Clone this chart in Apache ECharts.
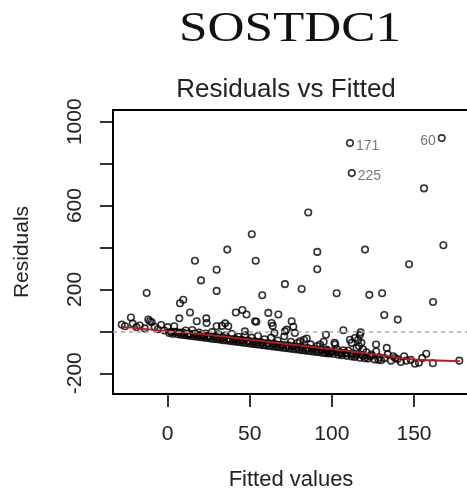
<!DOCTYPE html>
<html>
<head>
<meta charset="utf-8">
<script src="https://cdn.jsdelivr.net/npm/echarts@6/dist/echarts.min.js"></script>
<style>
  html, body { margin: 0; padding: 0; background: #fff; }
  #chart { width: 467px; height: 497px; }
</style>
</head>
<body>
<div id="chart"></div>
<script>
// Residuals vs fitted values for the SOSTDC1 model
const chartTitle = 'SOSTDC1';
const panelTitle = 'Residuals vs Fitted';
const xName = 'Fitted values';
const yName = 'Residuals';

const fittedTicks = [0, 50, 100, 150];
const residualTicks = [-200, 0, 200, 400, 600, 800, 1000];
const residualTickLabels = [-200, 200, 600, 1000];

// observations flagged by index
const flaggedPoints = [
  { id: '171', fitted: 111.0, residual: 898, side: 'right' },
  { id: '225', fitted: 112.1, residual: 755, side: 'right' },
  { id: '60', fitted: 166.9, residual: 922, side: 'left' }
];

// large positive residuals
const upperPoints = [
  [156.1, 682], [85.6, 567], [51.2, 463], [91.1, 379], [120.2, 390], [167.9, 411],
  [36.3, 390], [16.6, 337], [53.6, 337], [91.1, 296], [29.8, 294], [147.0, 320],
  [20.3, 243], [71.4, 225], [81.6, 202], [29.8, 193], [-12.8, 183], [102.9, 182],
  [122.8, 174], [130.6, 182], [57.6, 172], [9.5, 151], [7.5, 134], [161.6, 140],
  [131.9, 78], [140.1, 56], [13.6, 90], [41.5, 90], [45.5, 102], [48.0, 80],
  [61.3, 88], [67.4, 80], [-22.4, 66], [7.1, 62], [23.5, 62]
];

// points in the middle of the band
const middlePoints = [
  [-28, 32], [-26, 24], [-21.3, 37], [-19, 20], [-17, 28], [-14, 14], [-11.8, 56],
  [-9.7, 43], [-8, 22], [-6, 10], [-4, 30], [-2, 4], [0, 20], [2, -2], [4, 24],
  [-10.8, 48], [17.7, 48], [23.7, 40], [29.8, 24], [36.9, 24], [33, 26], [35, 38],
  [47, 0], [53.2, 48], [54, 46], [63.3, 40], [64, 26], [65, -8], [71.4, 0], [72.5, 8],
  [75.5, 48], [76.5, 22], [77.5, -8], [84.7, -34], [80.6, -48], [96.4, -16], [107, 5],
  [117.5, -5], [116, -40], [112, -55], [114, -32], [117, -18], [118, -55], [111, -40],
  [101.6, -55], [102, -63], [92.8, -63], [116.5, -71], [126.9, -63], [133.4, -79],
  [119, -87], [107, -90], [124.2, -111], [128.3, -135], [137.4, -119], [138.4, -127],
  [144, -119], [145.3, -140], [150.6, -155], [157.5, -107], [161.5, -152], [177.6, -140],
  [96.8, -87], [98.8, -103]
];

// second row just above the lower edge
const nearEdgePoints = [
  [4, -2], [7, -6], [10, -8], [13, -14], [16, -12], [19, -18], [22, -20], [25, -24],
  [28, -26], [31, -30], [34, -30], [37, -36], [40, -38], [43, -42], [46, -44], [49, -46],
  [52, -50], [55, -52], [58, -56], [61, -58], [64, -62], [67, -64], [70, -66], [73, -70],
  [76, -72], [79, -76], [82, -80], [85, -82], [88, -84], [91, -88], [94, -90], [97, -94],
  [100, -98], [103, -100], [106, -104], [109, -106], [112, -110], [115, -112], [119, -118],
  [123, -120]
];

// dense lower edge of the band
const lowerPoints = [
  [1, -8], [3, -12], [5, -4], [6, -14], [8, -16], [9, -6], [10, -18], [11, 4], [12, -20],
  [13, -10], [14, -22], [15, 6], [16, -24], [17, -14], [18, -26], [19, -6], [20, -28],
  [21, -18], [22, -30], [23, -10], [24, -32], [25, -20], [26, -34], [27, -4], [28, -36],
  [29, -24], [30, -38], [31, -14], [32, -40], [33, -30], [34, -42], [35, -20], [36, -44],
  [37, -34], [38, -46], [39, -12], [40, -48], [41, -36], [42, -50], [43, -26], [44, -52],
  [45, -40], [46, -54], [47, -18], [48, -56], [49, -44], [50, -58], [51, -30], [52, -60],
  [53, -48], [54, -62], [55, -22], [56, -64], [57, -52], [58, -66], [59, -38], [60, -68],
  [61, -56], [62, -70], [63, -30], [64, -72], [65, -60], [66, -74], [67, -44], [68, -76],
  [69, -64], [70, -78], [71, -24], [72, -80], [73, -66], [74, -82], [75, -50], [76, -84],
  [77, -70], [78, -86], [79, -56], [80, -88], [81, -74], [82, -90], [83, -40], [84, -92],
  [85, -78], [86, -94], [87, -62], [88, -96], [89, -82], [90, -98], [91, -70], [92, -100],
  [93, -86], [94, -102], [95, -50], [96, -104], [97, -92], [98, -106], [100, -96],
  [101, -108], [103, -84], [104, -112], [105, -100], [106, -114], [108, -104], [109, -117],
  [110, -92], [112, -120], [113, -106], [114, -122], [115, -80], [117, -126], [118, -112],
  [120, -128], [121, -100], [122, -130], [124, -118], [126, -134], [127, -96], [129, -124],
  [130, -138], [132, -128], [134, -110], [136, -140], [140, -132], [142, -146], [148, -136],
  [153, -150], [155, -128]
];

// smoothed trend of the residuals
const smoothFitted = [-28, -10, 10, 30, 50, 70, 90, 110, 130, 145, 160, 178];
const smoothResidual = [22, 8, -6, -22, -40, -58, -76, -94, -114, -130, -138, -142];

const allPoints = upperPoints
  .concat(middlePoints, nearEdgePoints, lowerPoints)
  .concat(flaggedPoints.map(p => [p.fitted, p.residual]));

const sans = 'Liberation Sans, Arial, sans-serif';
const serif = 'Liberation Serif, Times New Roman, serif';

const chart = echarts.init(document.getElementById('chart'), null, { renderer: 'canvas' });

chart.setOption({
  backgroundColor: '#ffffff',
  animation: false,
  grid: {
    left: 113, top: 110, right: -2, bottom: 103,
    show: true, borderColor: '#000', borderWidth: 2, backgroundColor: 'transparent',
    outerBoundsMode: 'none'
  },
  graphic: [
    {
      type: 'text', x: 290, y: 30, scaleX: 1.22,
      style: { text: chartTitle, font: '42px ' + serif, fill: '#111', textAlign: 'center', textVerticalAlign: 'middle' }
    },
    {
      type: 'text', x: 286, y: 90,
      style: { text: panelTitle, font: '26px ' + sans, fill: '#222', textAlign: 'center', textVerticalAlign: 'middle' }
    }
  ],
  xAxis: {
    type: 'value', min: -33.3, max: 183.5,
    name: xName, nameLocation: 'middle', nameGap: 75,
    nameTextStyle: { fontFamily: sans, fontSize: 22, color: '#222' },
    axisLine: { show: false, onZero: false },
    splitLine: { show: false },
    axisTick: { show: true, length: 13, inside: false, customValues: fittedTicks,
      lineStyle: { color: '#000', width: 1.6 } },
    axisLabel: { customValues: fittedTicks, fontFamily: sans, fontSize: 21, color: '#222', margin: 30,
      formatter: v => String(v) }
  },
  yAxis: {
    type: 'value', min: -299, max: 1056,
    name: yName, nameLocation: 'middle', nameGap: 80,
    nameTextStyle: { fontFamily: sans, fontSize: 21, color: '#222' },
    axisLine: { show: false, onZero: false },
    splitLine: { show: false },
    axisTick: { show: true, length: 13, inside: false, customValues: residualTicks,
      lineStyle: { color: '#000', width: 1.6 } },
    axisLabel: { customValues: residualTickLabels, rotate: 90, fontFamily: sans, fontSize: 21,
      color: '#222', margin: 27, formatter: v => String(v) }
  },
  series: [
    {
      type: 'scatter',
      data: allPoints,
      symbol: 'circle', symbolSize: 6.5,
      itemStyle: { color: 'rgba(0,0,0,0)', borderColor: '#000', borderWidth: 1.6 },
      markLine: {
        silent: true, symbol: 'none',
        label: { show: false },
        lineStyle: { color: '#a8a8a8', type: [4, 4], width: 1.5 },
        data: [{ yAxis: 0 }]
      },
      z: 2
    },
    {
      type: 'line',
      data: smoothFitted.map((x, i) => [x, smoothResidual[i]]),
      showSymbol: false, smooth: true,
      lineStyle: { color: '#c01818', width: 1.8 },
      z: 3
    },
    {
      type: 'scatter',
      data: flaggedPoints.map(p => ({
        value: [p.fitted, p.residual], name: p.id,
        label: { position: p.side }
      })),
      symbolSize: 0,
      label: {
        show: true, formatter: '{b}', fontFamily: sans, fontSize: 14, color: '#555',
        distance: 6, offset: [0, 3]
      },
      z: 4
    }
  ]
});
</script>
</body>
</html>
